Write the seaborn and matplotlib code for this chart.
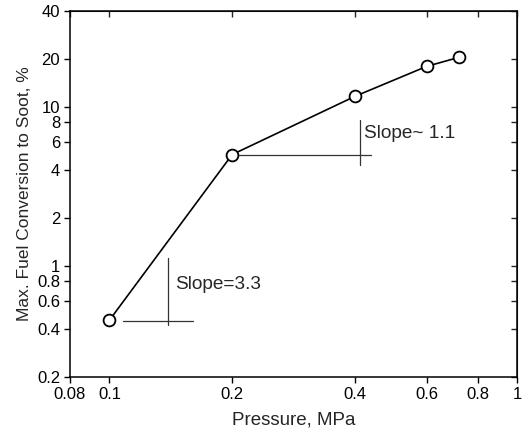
import seaborn as sns
import matplotlib.pyplot as plt
import pandas as pd
from matplotlib.ticker import FixedLocator, FixedFormatter, NullLocator

# data
pressure = [0.1, 0.2, 0.4, 0.6, 0.72]
conversion = [0.456, 5.0, 11.6, 17.9, 20.4]

x_ticks = [0.08, 0.1, 0.2, 0.4, 0.6, 0.8, 1]
x_labels = ["0.08", "0.1", "0.2", "0.4", "0.6", "0.8", "1"]
y_ticks = [0.2, 0.4, 0.6, 0.8, 1, 2, 4, 6, 8, 10, 20, 40]
y_labels = ["0.2", "0.4", "0.6", "0.8", "1", "2", "4", "6", "8", "10", "20", "40"]

df = pd.DataFrame({"pressure": pressure, "conversion": conversion})

sns.set_style("ticks")
plt.rcParams["font.family"] = ["Liberation Sans", "DejaVu Sans"]

fig = plt.figure(figsize=(5.26, 4.32), dpi=100)
ax = fig.add_axes([0.133, 0.127, 0.850, 0.848])

sns.lineplot(data=df, x="pressure", y="conversion", ax=ax, color="black",
             linewidth=1.2, marker="o", markersize=8.5,
             markerfacecolor="white", markeredgecolor="black", markeredgewidth=1.3)

ax.set_xscale("log")
ax.set_yscale("log")
ax.set_xlim(0.08, 1)
ax.set_ylim(0.2, 40)

for axis, ticks, labels in [(ax.xaxis, x_ticks, x_labels), (ax.yaxis, y_ticks, y_labels)]:
    axis.set_major_locator(FixedLocator(ticks))
    axis.set_major_formatter(FixedFormatter(labels))
    axis.set_minor_locator(NullLocator())

ax.tick_params(axis="both", which="major", direction="out", length=4, width=1,
               labelsize=12, colors="black", pad=3)
# inward ticks on top/right
ax2 = ax.secondary_xaxis("top")
ax2.set_xticks(x_ticks)
ax2.set_xticklabels([])
ax2.xaxis.set_minor_locator(NullLocator())
ax2.tick_params(direction="in", length=4, width=1)
ax3 = ax.secondary_yaxis("right")
ax3.set_yticks(y_ticks)
ax3.set_yticklabels([])
ax3.yaxis.set_minor_locator(NullLocator())
ax3.tick_params(direction="in", length=4, width=1)

for s in ax.spines.values():
    s.set_linewidth(1.1)
    s.set_color("black")

# slope markers
ax.plot([0.108, 0.16], [0.45, 0.45], color="#333333", lw=0.9)
ax.plot([0.139, 0.139], [0.425, 1.12], color="#333333", lw=0.9)
ax.text(0.145, 0.76, "Slope=3.3", fontsize=13.7, va="center", ha="left")

ax.plot([0.208, 0.438], [4.95, 4.95], color="#333333", lw=0.9)
ax.plot([0.411, 0.411], [4.27, 8.27], color="#333333", lw=0.9)
ax.text(0.422, 6.75, "Slope~ 1.1", fontsize=13.7, va="center", ha="left")

ax.set_xlabel("Pressure, MPa", fontsize=13.5, labelpad=7)
ax.set_ylabel("Max. Fuel Conversion to Soot, %", fontsize=12.5, labelpad=4)

fig.savefig("out.png", dpi=100)
